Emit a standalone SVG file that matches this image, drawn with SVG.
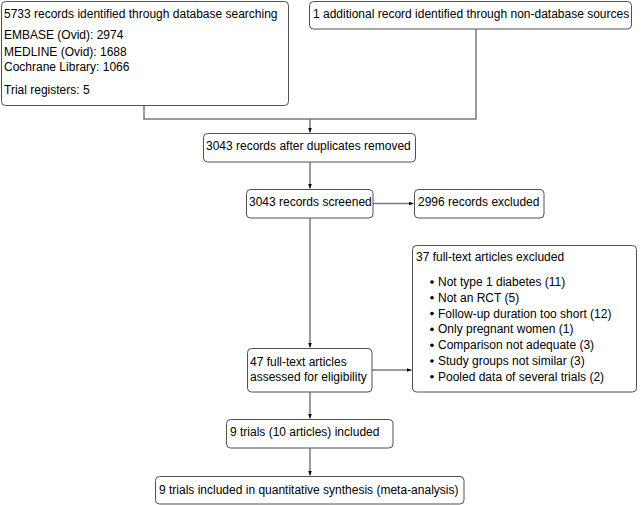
<svg xmlns="http://www.w3.org/2000/svg" width="644" height="505" viewBox="0 0 644 505">
<style>
.box{fill:#fff;stroke:#505050;stroke-width:1}
text{font-family:"Liberation Sans",Arial,sans-serif;font-size:12px;fill:#000}
.c{fill:none;stroke:#7a7a7a;stroke-width:1.5}
</style>
<defs>
<marker id="ah" markerWidth="6" markerHeight="6" refX="5" refY="3" orient="auto" markerUnits="userSpaceOnUse">
<path d="M0,1 L5,3 L0,5 Z" fill="#000"/>
</marker>
</defs>
<rect width="644" height="505" fill="#fff"/>
<g id="connectors">
<path class="c" d="M144,106 V119 H476 V29"/>
<path class="c" d="M310,119 V132.5" marker-end="url(#ah)"/>
<path class="c" d="M310,162 V188.5" marker-end="url(#ah)"/>
<path class="c" d="M373,203.5 H413.5" marker-end="url(#ah)"/>
<path class="c" d="M310,218 V347.5" marker-end="url(#ah)"/>
<path class="c" d="M372,370 H411.5" marker-end="url(#ah)"/>
<path class="c" d="M310,392 V418.5" marker-end="url(#ah)"/>
<path class="c" d="M310,448 V475.5" marker-end="url(#ah)"/>
</g>
<g id="n1">
<rect class="box" x="1.5" y="1.5" width="287" height="104" rx="4"/>
<text x="4" y="17.5">5733 records identified through database searching</text>
<text x="4" y="39">EMBASE (Ovid): 2974</text>
<text x="4" y="55.5">MEDLINE (Ovid): 1688</text>
<text x="4" y="71">Cochrane Library: 1066</text>
<text x="4" y="94">Trial registers: 5</text>
</g>
<g id="n2">
<rect class="box" x="309.5" y="1.5" width="322" height="27.5" rx="4"/>
<text x="313" y="17.5">1 additional record identified through non-database sources</text>
</g>
<g id="n3">
<rect class="box" x="203.5" y="133.5" width="212" height="28.5" rx="4"/>
<text x="206" y="150">3043 records after duplicates removed</text>
</g>
<g id="n4">
<rect class="box" x="246.5" y="189.5" width="126.5" height="28.5" rx="4"/>
<text x="249" y="206">3043 records screened</text>
</g>
<g id="n5">
<rect class="box" x="414.5" y="189.5" width="129.5" height="28.5" rx="4"/>
<text x="418" y="206">2996 records excluded</text>
</g>
<g id="n6">
<rect class="box" x="247.5" y="348.5" width="124.5" height="43.5" rx="4"/>
<text x="250" y="366">47 full-text articles</text>
<text x="250" y="380.5">assessed for eligibility</text>
</g>
<g id="n7">
<rect class="box" x="412.5" y="245.5" width="224" height="146.5" rx="4"/>
<text x="416" y="261">37 full-text articles excluded</text>
<g fill="#000">
<circle cx="432" cy="282" r="1.8"/>
<circle cx="432" cy="297.8" r="1.8"/>
<circle cx="432" cy="313.6" r="1.8"/>
<circle cx="432" cy="329.4" r="1.8"/>
<circle cx="432" cy="345.2" r="1.8"/>
<circle cx="432" cy="361" r="1.8"/>
<circle cx="432" cy="376.8" r="1.8"/>
</g>
<text x="438" y="286">Not type 1 diabetes (11)</text>
<text x="438" y="301.8">Not an RCT (5)</text>
<text x="438" y="317.6">Follow-up duration too short (12)</text>
<text x="438" y="333.4">Only pregnant women (1)</text>
<text x="438" y="349.2">Comparison not adequate (3)</text>
<text x="438" y="365">Study groups not similar (3)</text>
<text x="438" y="380.8">Pooled data of several trials (2)</text>
</g>
<g id="n8">
<rect class="box" x="226.5" y="419.5" width="166.5" height="28.5" rx="4"/>
<text x="230" y="435.5">9 trials (10 articles) included</text>
</g>
<g id="n9">
<rect class="box" x="155.5" y="476.5" width="308.5" height="27.5" rx="4"/>
<text x="159" y="493.5">9 trials included in quantitative synthesis (meta-analysis)</text>
</g>
</svg>
